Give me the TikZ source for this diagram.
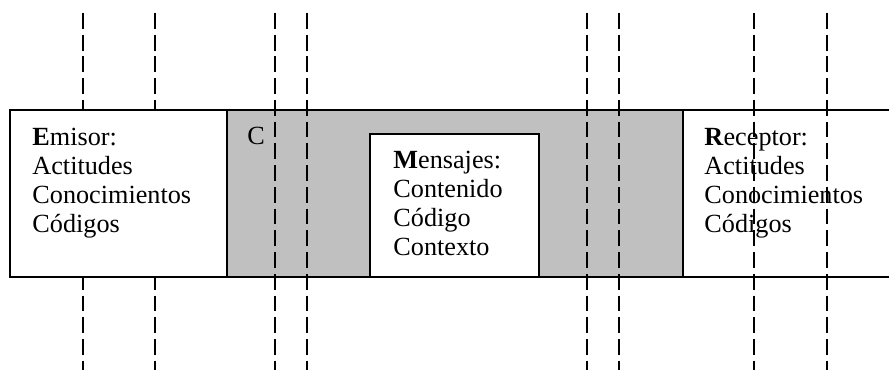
\documentclass[tikz,border=0pt]{standalone}
\usepackage{fontspec}
\setmainfont{Liberation Serif}
\usepackage{xcolor}
\definecolor{canal}{HTML}{C0C0C0}

\tikzset{
  borde/.style={line width=0.9pt},
  corte/.style={line width=0.9pt, dash pattern=on 7.4pt off 2.8pt},
  texto/.style={anchor=base west, align=left, inner sep=0pt,
    font={\fontsize{12.3pt}{13.6pt}\selectfont}}
}

\begin{document}
\begin{tikzpicture}[x=0.0165cm, y=0.0165cm]
  \useasboundingbox (0,0) rectangle (889,370);

  % grey channel between the two ends
  \fill[canal] (227,93) rectangle (683,260);

  % vertical cut lines
  \foreach \x in {83,155,275,307,587,619,754,827}
    \draw[corte] (\x,357) -- (\x,0);

  % sender box hides the lines, message box sits in the channel
  \fill[white] (10,93) rectangle (227,260);
  \fill[white] (370,93) rectangle (539,236);

  % outlines
  \draw[borde] (889,260) -- (10,260) -- (10,93) -- (889,93);
  \draw[borde] (227,93) -- (227,260);
  \draw[borde] (683,93) -- (683,260);
  \draw[borde] (370,93) rectangle (539,236);

  % base of each text block is its last line
  \node[texto] (emisor) at (32,138)
    {\textbf{E}misor:\\Actitudes\\Conocimientos\\Códigos};
  \node[texto] (canalc) at (247,226) {C};
  \node[texto] (mensajes) at (393,115)
    {\textbf{M}ensajes:\\Contenido\\Código\\Contexto};
  \node[texto] (receptor) at (704,138)
    {\textbf{R}eceptor:\\Actitudes\\Conocimientos\\Códigos};
\end{tikzpicture}
\end{document}
